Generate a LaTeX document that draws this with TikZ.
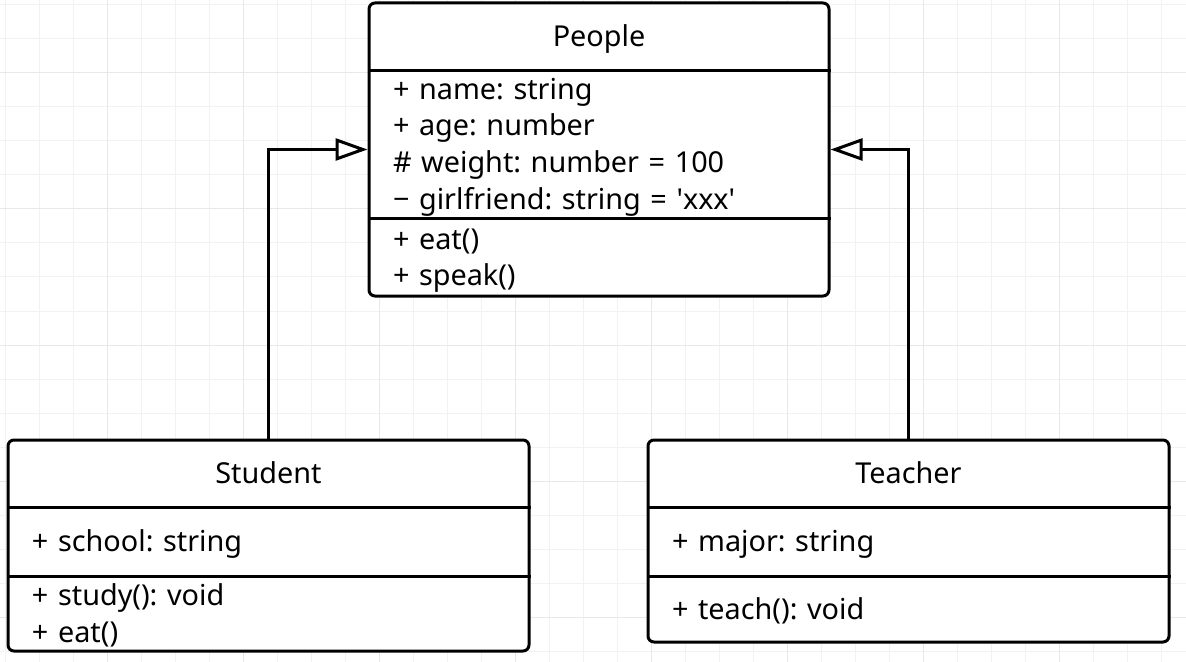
\documentclass[tikz,border=0pt]{standalone}
\usepackage{fontspec}
\setmainfont{Noto Sans}
\usetikzlibrary{arrows.meta,positioning}
\frenchspacing
\newcommand{\umlfont}{\fontsize{14.4pt}{18.35pt}\selectfont}
\newcommand{\rowstrut}{\rule[-4.2pt]{0pt}{18.35pt}}
\tikzset{
umlclass/.style = {draw, fill=white, rectangle, rounded corners=3pt, line width=1.5pt, inner sep=0pt},
classtitle/.style = {rectangle, inner sep=0pt, minimum height=34pt, text height=10.3pt, text depth=0pt, font=\umlfont},
compart/.style = {rectangle, align=left, inner xsep=12pt, inner ysep=0pt, font=\umlfont},
divider/.style = {line width=1.5pt},
inherit/.style = {line width=1.5pt, -{Triangle[open, fill=white, length=16pt, width=11pt]}},
gridminor/.style = {black!5, line width=0.5pt},
gridmajor/.style = {black!9, line width=0.5pt}
}

\begin{document}
\begin{tikzpicture}[x=0.5pt, y=-0.5pt]
	\useasboundingbox (0,0) rectangle (1186,662);
	\fill[white] (0,0) rectangle (1186,662);
	% grid paper
	\draw[gridminor, step=17pt, shift={(5,5)}] (-5,657) grid (1181,-5);
	\draw[gridmajor, step=68pt, shift={(107,73)}] (-107,589) grid (1079,-73);

	% People
	\node [umlclass, minimum width=230pt, minimum height=146.5pt] (people) at (599,149.5) {};
	\node [classtitle, below=0pt of people.north] (ptitle) {People};
	\node [compart, text width=206pt, minimum height=73.5pt, below=0pt of ptitle] (pattr)
		{\rowstrut+ name: string\\ \rowstrut+ age: number\\ \rowstrut\# weight: number = 100\\ \rowstrut− girlfriend: string = \textquotesingle xxx\textquotesingle};
	\node [compart, text width=206pt, minimum height=39pt, below=0pt of pattr] (pmeth)
		{\rowstrut+ eat()\\ \rowstrut+ speak()};
	\draw [divider] (ptitle.south -| people.west) -- (ptitle.south -| people.east);
	\draw [divider] (pattr.south -| people.west) -- (pattr.south -| people.east);

	% Student
	\node [umlclass, minimum width=260.5pt, minimum height=105.5pt] (student) at (268.5,545.5) {};
	\node [classtitle, below=0pt of student.north] (stitle) {Student};
	\node [compart, text width=236.5pt, minimum height=34pt, below=0pt of stitle] (sattr)
		{\rowstrut+ school: string};
	\node [compart, text width=236.5pt, minimum height=37.5pt, below=0pt of sattr] (smeth)
		{\rowstrut+ study(): void\\ \rowstrut+ eat()};
	\draw [divider] (stitle.south -| student.west) -- (stitle.south -| student.east);
	\draw [divider] (sattr.south -| student.west) -- (sattr.south -| student.east);

	% Teacher
	\node [umlclass, minimum width=260.5pt, minimum height=101pt] (teacher) at (908.5,541) {};
	\node [classtitle, below=0pt of teacher.north] (ttitle) {Teacher};
	\node [compart, text width=236.5pt, minimum height=34pt, below=0pt of ttitle] (tattr)
		{\rowstrut+ major: string};
	\node [compart, text width=236.5pt, minimum height=33pt, below=0pt of tattr] (tmeth)
		{\rowstrut+ teach(): void};
	\draw [divider] (ttitle.south -| teacher.west) -- (ttitle.south -| teacher.east);
	\draw [divider] (tattr.south -| teacher.west) -- (tattr.south -| teacher.east);

	% generalisation
	\draw [inherit] (student.north) |- (people.west);
	\draw [inherit] (teacher.north) |- (people.east);
\end{tikzpicture}
\end{document}
